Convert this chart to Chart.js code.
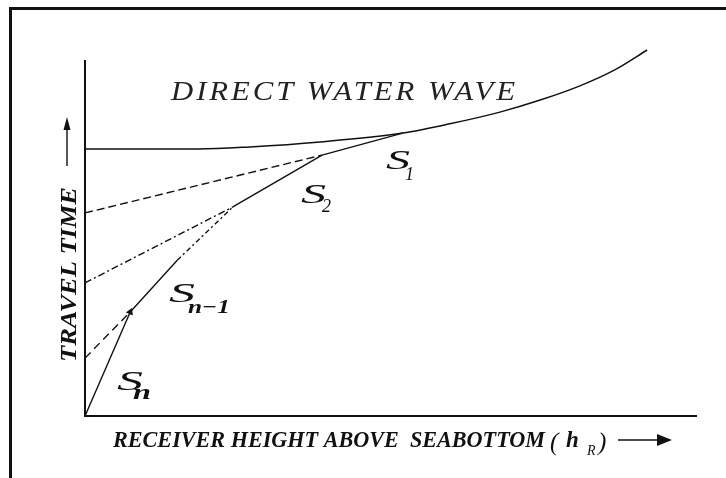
<!DOCTYPE html>
<html>
<head>
<meta charset="utf-8">
<title>Travel time vs receiver height</title>
<script src="https://cdn.jsdelivr.net/npm/chart.js@4"></script>
<style>
  html, body { margin: 0; padding: 0; background: #fff; }
  #wrap { position: relative; width: 726px; height: 478px; overflow: hidden; }
</style>
</head>
<body>
<div id="wrap"><canvas id="chart" width="726" height="478"></canvas></div>
<script>
// Direct water wave (curved arrival)
const directWaveX = [0, 18.5, 27.0, 38.5, 52.0, 59.7, 67.9, 74.5, 81.0, 86.7, 92.0];
const directWaveY = [75.2, 75.2, 75.8, 77.2, 79.7, 82.3, 85.6, 89.0, 93.0, 97.5, 103.1];

// Refracted branches: solid part and its extrapolation back to h = 0
const s1X = [38.8, 52.0];
const s1Y = [73.5, 79.7];
const s1ExtX = [0, 38.8];
const s1ExtY = [57.2, 73.5];

const s2X = [24.2, 38.8];
const s2Y = [58.9, 73.5];
const s2ExtX = [0, 24.2];
const s2ExtY = [37.5, 58.9];

const sn1X = [7.4, 15.1];
const sn1Y = [29.3, 43.9];
const sn1UpperX = [15.1, 24.2];
const sn1UpperY = [43.9, 58.9];
const sn1ExtX = [0, 7.4];
const sn1ExtY = [16.3, 29.3];

const snX = [0, 7.4];
const snY = [0, 29.3];

function pts(xs, ys) {
  return xs.map((x, i) => ({ x: x, y: ys[i] }));
}

function lineSet(xs, ys, dash, extra) {
  return Object.assign({
    data: pts(xs, ys),
    showLine: true,
    borderColor: '#111',
    borderWidth: 1.4,
    borderDash: dash,
    pointRadius: 0,
    fill: false,
    clip: false
  }, extra || {});
}

const SERIF = '"Liberation Serif", "DejaVu Serif", serif';

// draw text fitted to a width: some horizontal stretch, rest as letter spacing
function fitText(ctx, text, x, y, font, width, stretch) {
  ctx.save();
  ctx.font = font;
  const sx = stretch || 1;
  let w = ctx.measureText(text).width * sx;
  ctx.translate(x, y);
  if (width) {
    if (stretch) {
      const gap = (width - w) / sx / (text.length - 1);
      ctx.letterSpacing = gap + 'px';
      ctx.scale(sx, 1);
    } else {
      ctx.scale(width / w, 1);
    }
  }
  ctx.fillText(text, 0, 0);
  ctx.restore();
}

function arrowHead(ctx, tipX, tipY, dir, len, half) {
  ctx.beginPath();
  if (dir === 'up') {
    ctx.moveTo(tipX, tipY);
    ctx.lineTo(tipX - half, tipY + len);
    ctx.lineTo(tipX + half, tipY + len);
  } else {
    ctx.moveTo(tipX, tipY);
    ctx.lineTo(tipX - len, tipY - half);
    ctx.lineTo(tipX - len, tipY + half);
  }
  ctx.closePath();
  ctx.fill();
}

const frameAndLabels = {
  id: 'frameAndLabels',
  beforeDraw(chart) {
    const ctx = chart.ctx;
    ctx.save();
    ctx.fillStyle = '#111';
    ctx.fillRect(9, 7, 726, 3);
    ctx.fillRect(9, 7, 3, 478);
    ctx.restore();
  },
  afterDraw(chart) {
    const ctx = chart.ctx;
    ctx.save();
    ctx.fillStyle = '#111';
    ctx.strokeStyle = '#111';
    ctx.textBaseline = 'alphabetic';
    ctx.textAlign = 'left';

    ctx.fillStyle = '#222';
    fitText(ctx, 'DIRECT WATER WAVE', 171, 100, 'italic 27px ' + SERIF, 344, 1.14);
    ctx.fillStyle = '#111';

    // vertical axis title, reading bottom to top
    ctx.save();
    ctx.translate(76, 362);
    ctx.rotate(-Math.PI / 2);
    fitText(ctx, 'TRAVEL TIME', 0, 0, 'bold italic 23px ' + SERIF, 175);
    ctx.restore();
    ctx.lineWidth = 1.4;
    ctx.beginPath();
    ctx.moveTo(67, 166);
    ctx.lineTo(67, 125);
    ctx.stroke();
    arrowHead(ctx, 67, 117, 'up', 13, 3.5);

    // horizontal axis title
    fitText(ctx, 'RECEIVER HEIGHT ABOVE  SEABOTTOM', 113, 447, 'bold italic 23px ' + SERIF, 432);
    fitText(ctx, '(', 550, 450, 'italic 25px ' + SERIF);
    fitText(ctx, 'h', 566, 447, 'bold italic 23px ' + SERIF);
    fitText(ctx, 'R', 587, 455, 'italic 14px ' + SERIF);
    fitText(ctx, ')', 598, 450, 'italic 25px ' + SERIF);
    ctx.beginPath();
    ctx.moveTo(618, 440);
    ctx.lineTo(660, 440);
    ctx.stroke();
    arrowHead(ctx, 672, 440, 'right', 15, 6);

    // branch labels
    const sFont = 'italic 28px ' + SERIF;
    fitText(ctx, 'S', 386, 169, sFont, 24);
    fitText(ctx, '1', 405, 180, 'italic 18px ' + SERIF);
    fitText(ctx, 'S', 301, 203, sFont, 25);
    fitText(ctx, '2', 322, 212, 'italic 18px ' + SERIF);
    fitText(ctx, 'S', 169, 302, sFont, 26);
    fitText(ctx, 'n\u22121', 188, 313, 'bold italic 19px ' + SERIF, 42);
    fitText(ctx, 'S', 117, 390, sFont, 26);
    fitText(ctx, 'n', 133, 399, 'bold italic 20px ' + SERIF, 18);
    ctx.restore();
  }
};

const ctx = document.getElementById('chart').getContext('2d');
new Chart(ctx, {
  type: 'scatter',
  data: {
    datasets: [
      lineSet(directWaveX, directWaveY, [], { cubicInterpolationMode: 'monotone', borderWidth: 1.5 }),
      lineSet(s1X, s1Y, []),
      lineSet(s1ExtX, s1ExtY, [8, 4]),
      lineSet(s2X, s2Y, []),
      lineSet(s2ExtX, s2ExtY, [7, 3, 2, 3]),
      lineSet(sn1X, sn1Y, []),
      lineSet(sn1UpperX, sn1UpperY, [5, 3, 2, 3]),
      lineSet(sn1ExtX, sn1ExtY, [8, 5]),
      lineSet(snX, snY, [], {
        pointRadius: [0, 3],
        pointStyle: 'triangle',
        rotation: 23,
        pointBackgroundColor: '#111',
        pointBorderColor: '#111'
      })
    ]
  },
  options: {
    responsive: false,
    animation: false,
    events: [],
    layout: { padding: { left: 85, top: 61, right: 30, bottom: 62 } },
    plugins: {
      legend: { display: false },
      tooltip: { enabled: false }
    },
    scales: {
      x: {
        type: 'linear', min: 0, max: 100,
        ticks: { display: false },
        grid: { display: false, drawTicks: false },
        border: { display: true, color: '#111', width: 2 }
      },
      y: {
        type: 'linear', min: 0, max: 100,
        ticks: { display: false },
        grid: { display: false, drawTicks: false },
        border: { display: true, color: '#111', width: 2 }
      }
    }
  },
  plugins: [frameAndLabels]
});
</script>
</body>
</html>
